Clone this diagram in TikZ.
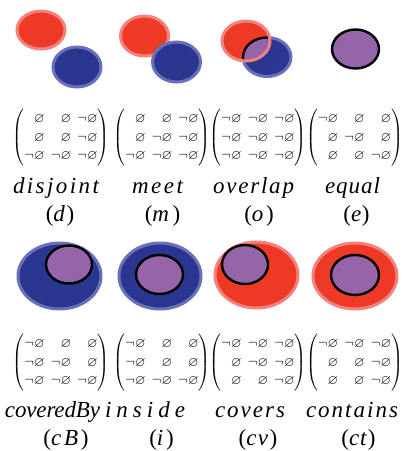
\documentclass[tikz,border=0pt]{standalone}
\usepackage{amssymb}
\usepackage{fontspec}
\newfontfamily\labf{Liberation Serif}
\definecolor{rfill}{RGB}{238,58,36}
\definecolor{rline}{RGB}{242,130,125}
\definecolor{bfill}{RGB}{43,54,145}
\definecolor{bline}{RGB}{105,112,185}
\definecolor{pfill}{RGB}{150,100,168}
\newcommand\Em{\varnothing}
\newcommand\Ne{\neg\varnothing}
\newcommand\mtx[1]{{\fontsize{13.5}{18.5}\selectfont\setlength\arraycolsep{3.2pt}$\left(\begin{array}{@{}rrr@{}}#1\end{array}\right)$}}
\newsavebox\fitbox
\newcount\cnt
\makeatletter
\def\cntA#1{\ifx#1\relax\else\advance\cnt\@ne\expandafter\cntA\fi}
\makeatother
% name label: letter-spaced to a target width
\newcommand\nm[2]{\sbox\fitbox{\itshape #2}\cnt=0 \cntA#2\relax
  \pgfmathsetmacro\lsv{(#1-\wd\fitbox)/(\the\cnt-1)/23*100}%
  {\itshape\edef\tmp{\noexpand\addfontfeature{LetterSpace=\lsv}}\tmp #2}}
% abbreviation label in parentheses
\newcommand\ab[2]{\sbox\fitbox{(\textit{#2})}\cnt=0 \cntA#2\relax
  \pgfmathsetmacro\lsv{(#1-\wd\fitbox)/(\the\cnt+1)/23*100}%
  {\edef\tmp{\noexpand\addfontfeature{LetterSpace=\lsv}}\tmp(\textit{#2})}}
\tikzset{
  redE/.style={fill=rfill,draw=rline,line width=3pt},
  blueE/.style={fill=bfill,draw=bline,line width=3pt},
  purpE/.style={fill=pfill,draw=black,line width=2.4pt},
  mat/.style={inner sep=0pt},
  lab/.style={anchor=base,inner sep=0pt,font=\labf\fontsize{23}{26}\selectfont},
}
\begin{document}
\begin{tikzpicture}[x=1pt,y=-1pt]
\useasboundingbox (0,0) rectangle (406,451);
% disjoint
\draw[redE] (41,30) ellipse [x radius=24,y radius=19];
\draw[blueE] (77,67) ellipse [x radius=24,y radius=20];
% meet
\draw[redE] (144.5,36) ellipse [x radius=24,y radius=20];
\draw[blueE] (176.5,62) ellipse [x radius=24,y radius=20];
% overlap
\draw[blueE] (267,57) ellipse [x radius=24,y radius=19.5];
\fill[rfill] (246,41) ellipse [x radius=24,y radius=20];
\begin{scope}
  \clip (246,41) ellipse [x radius=24,y radius=20];
  \draw[purpE] (267,57) ellipse [x radius=24,y radius=19.5];
\end{scope}
\draw[rline,line width=3pt] (246,41) ellipse [x radius=24,y radius=20];
% equal
\draw[purpE] (355.5,49) ellipse [x radius=23.5,y radius=19.5];
% coveredBy
\draw[blueE] (59.5,276) ellipse [x radius=41.5,y radius=33];
\draw[purpE] (69,264.5) ellipse [x radius=23,y radius=19];
% inside
\draw[blueE] (160,276) ellipse [x radius=41,y radius=33];
\draw[purpE] (159.5,274.5) ellipse [x radius=23.5,y radius=19.5];
% covers
\draw[redE] (256.5,275) ellipse [x radius=41.5,y radius=33];
\draw[purpE] (245,264.5) ellipse [x radius=23,y radius=19.5];
% contains
\draw[redE] (355,276) ellipse [x radius=42,y radius=33];
\draw[purpE] (355,275) ellipse [x radius=24,y radius=20];
% matrices top
\node[mat] (md) at (61,137.5) {\mtx{\Em & \Em & \Ne\\ \Em & \Em & \Ne\\ \Ne & \Ne & \Ne}};
\node[mat] (mm) at (162,137.5) {\mtx{\Em & \Em & \Ne\\ \Em & \Ne & \Ne\\ \Ne & \Ne & \Ne}};
\node[mat] (mo) at (258,137.5) {\mtx{\Ne & \Ne & \Ne\\ \Ne & \Ne & \Ne\\ \Ne & \Ne & \Ne}};
\node[mat] (me) at (354.5,137.5) {\mtx{\Ne & \Em & \Em\\ \Em & \Ne & \Em\\ \Em & \Em & \Ne}};
% matrices bottom
\node[mat] (mcb) at (61,362.5) {\mtx{\Ne & \Em & \Em\\ \Ne & \Ne & \Em\\ \Ne & \Ne & \Ne}};
\node[mat] (mi) at (162,362.5) {\mtx{\Ne & \Em & \Em\\ \Ne & \Em & \Em\\ \Ne & \Ne & \Ne}};
\node[mat] (mcv) at (258,362.5) {\mtx{\Ne & \Ne & \Ne\\ \Em & \Ne & \Ne\\ \Em & \Em & \Ne}};
\node[mat] (mct) at (354.5,362.5) {\mtx{\Ne & \Ne & \Ne\\ \Em & \Em & \Ne\\ \Em & \Em & \Ne}};
% labels top
\node[lab] (ld) at (56,193) {\nm{86}{disjoint}};
\node[lab] (lm) at (157.5,193) {\nm{51}{meet}};
\node[lab] (lo) at (253.5,193) {\nm{81}{overlap}};
\node[lab] (le) at (352.5,193) {\nm{55}{equal}};
\node[lab] (pd) at (60,221) {\ab{30}{d}};
\node[lab] (pm) at (162.5,221) {\ab{39}{m}};
\node[lab] (po) at (259,221) {\ab{32}{o}};
\node[lab] (pe) at (356.5,221) {\ab{27}{e}};
% labels bottom
\node[lab] (lcb) at (52.5,417) {\nm{95}{coveredBy}};
\node[lab] (li) at (145,417) {\nm{80}{inside}};
\node[lab] (lcv) at (250,417) {\nm{70}{covers}};
\node[lab] (lct) at (352,417) {\nm{92}{contains}};
\node[lab] (pcb) at (66,445) {\ab{48}{cB}};
\node[lab] (pi) at (161.5,445) {\ab{27}{i}};
\node[lab] (pcv) at (258,445) {\ab{40}{cv}};
\node[lab] (pct) at (358.5,445) {\ab{35}{ct}};
\end{tikzpicture}
\end{document}
